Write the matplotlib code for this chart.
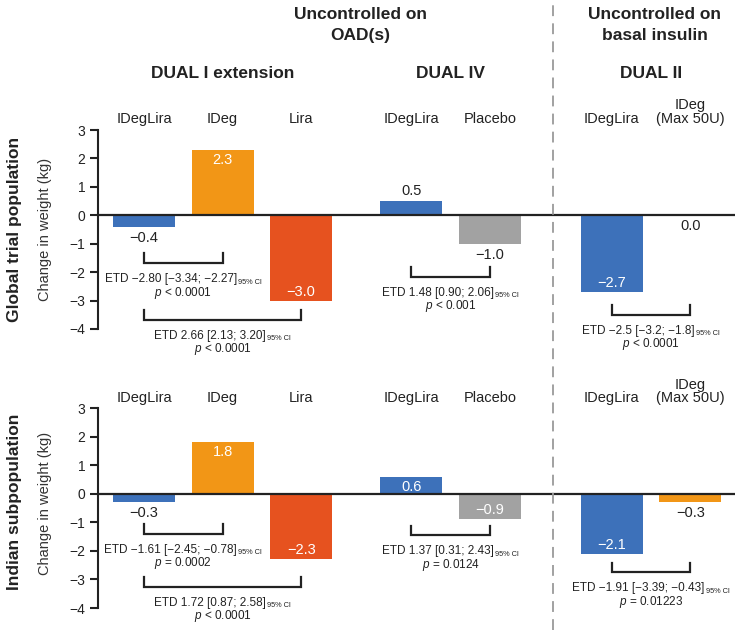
import matplotlib
matplotlib.use("Agg")
import matplotlib.pyplot as plt
from matplotlib import transforms

plt.rcParams['font.family'] = ['Liberation Sans', 'DejaVu Sans']
plt.rcParams['mathtext.fontset'] = 'custom'
plt.rcParams['mathtext.rm'] = 'Liberation Sans'
plt.rcParams['mathtext.it'] = 'Liberation Sans:italic'
plt.rcParams['mathtext.bf'] = 'Liberation Sans:bold'

# ---------------- data ----------------
trials = ["DUAL I extension", "DUAL IV", "DUAL II"]
arms = [["IDegLira", "IDeg", "Lira"],
        ["IDegLira", "Placebo"],
        ["IDegLira", "IDeg\n(Max 50U)"]]
arm_colors = {"IDegLira": "#3d71ba", "IDeg": "#f29616", "Lira": "#e6521f",
              "Placebo": "#a2a2a2", "IDeg\n(Max 50U)": "#f29616"}

global_values = [[-0.4, 2.3, -3.0], [0.5, -1.0], [-2.7, 0.0]]
indian_values = [[-0.3, 1.8, -2.3], [0.6, -0.9], [-2.1, -0.3]]

# label placement: inside bar (white) or outside (black)
global_label_in = [[False, True, True], [False, False], [True, False]]
indian_label_in = [[False, True, True], [True, True], [True, False]]

# comparisons: (trial, arm a, arm b, ETD text, p text)
global_comparisons = [
    (0, 0, 1, "ETD \u22122.80 [\u22123.34; \u22122.27]", "$p$ < 0.0001"),
    (0, 0, 2, "ETD 2.66 [2.13; 3.20]", "$p$ < 0.0001"),
    (1, 0, 1, "ETD 1.48 [0.90; 2.06]", "$p$ < 0.001"),
    (2, 0, 1, "ETD \u22122.5 [\u22123.2; \u22121.8]", "$p$ < 0.0001"),
]
indian_comparisons = [
    (0, 0, 1, "ETD \u22121.61 [\u22122.45; \u22120.78]", "$p$ = 0.0002"),
    (0, 0, 2, "ETD 1.72 [0.87; 2.58]", "$p$ < 0.0001"),
    (1, 0, 1, "ETD 1.37 [0.31; 2.43]", "$p$ = 0.0124"),
    (2, 0, 1, "ETD \u22121.91 [\u22123.39; \u22120.43]", "$p$ = 0.01223"),
]
ci_label = "95% CI"
# bracket levels (data units) for each comparison
global_bracket_y = [-1.68, -3.67, -2.17, -3.49]
indian_bracket_y = [-1.40, -3.26, -1.46, -2.75]

row_titles = ["Global trial population", "Indian subpopulation"]
ylabel = "Change in weight (kg)"
yticks = [3, 2, 1, 0, -1, -2, -3, -4]

# ---------------- layout ----------------
W, H = 737, 630
fig = plt.figure(figsize=(W / 100, H / 100), dpi=100)
renderer = fig.canvas.get_renderer()


def axes_px(left, top, right, bottom):
    return fig.add_axes([left / W, 1 - bottom / H, (right - left) / W, (bottom - top) / H])


def text_width(s, size):
    t = fig.text(0, 0, s, fontsize=size)
    w = t.get_window_extent(renderer).width
    t.remove()
    return w


ax_top = axes_px(98, 130, 735, 329)
ax_bot = axes_px(98, 408, 735, 608)

group_start = [0, 3.4, 5.95]
bar_w = 0.79
dark = "#222222"
etd_size = 8.5
sub_size = 5.3


def draw_panel(ax, values, label_in, comps, bracket_y, cat_y):
    ax.set_xlim(-0.585, 7.52)
    ax.set_ylim(-4, 3)
    for s in ["top", "right", "bottom"]:
        ax.spines[s].set_visible(False)
    ax.spines["left"].set_linewidth(1.5)
    ax.spines["left"].set_color(dark)
    ax.set_xticks([])
    ax.set_yticks(yticks)
    ax.tick_params(axis="y", length=6, width=1.5, color=dark, labelsize=10,
                   labelcolor="#222222", pad=3)
    ax.patch.set_alpha(0)
    ax.axhline(0, color=dark, lw=1.6, zorder=3)
    for g, names in enumerate(arms):
        for i, name in enumerate(names):
            x = group_start[g] + i
            v = values[g][i]
            ax.bar(x, v, width=bar_w, color=arm_colors[name], zorder=2)
            txt = ("\u2212%.1f" % abs(v)) if v < 0 else "%.1f" % v
            if label_in[g][i]:
                off = -10 if v > 0 else 9
                ax.annotate(txt, (x, v), xytext=(0, off), textcoords="offset pixels",
                            ha="center", va="center", color="white", fontsize=10.5, zorder=4)
            else:
                off = 10 if v > 0 else -11
                ax.annotate(txt, (x, v), xytext=(0, off), textcoords="offset pixels",
                            ha="center", va="center", color="#222222", fontsize=10.5, zorder=4)
            ax.text(x, cat_y, name, ha="center", va="baseline", fontsize=10.5,
                    linespacing=0.95, color="#222222", clip_on=False)
    for (g, a, b, t1, t2), yb in zip(comps, bracket_y):
        x1 = group_start[g] + a
        x2 = group_start[g] + b
        ax.plot([x1, x1, x2, x2], [yb + 0.34, yb, yb, yb + 0.34], color=dark, lw=1.6,
                clip_on=False, solid_joinstyle="miter")
        xc = (x1 + x2) / 2
        mw = text_width(t1, etd_size)
        sw = text_width(ci_label, sub_size)
        ax.annotate(t1, (xc, yb), xytext=(-(sw + 1) / 2, -16),
                    textcoords="offset pixels", ha="center", va="center",
                    fontsize=etd_size, color="#222222", annotation_clip=False)
        ax.annotate(ci_label, (xc, yb), xytext=(mw / 2 - (sw + 1) / 2 + 1, -19),
                    textcoords="offset pixels", ha="left", va="center",
                    fontsize=sub_size, color="#222222", annotation_clip=False)
        ax.annotate(t2, (xc, yb), xytext=(0, -29.5), textcoords="offset pixels",
                    ha="center", va="center", fontsize=etd_size, color="#222222",
                    annotation_clip=False)


draw_panel(ax_top, global_values, global_label_in, global_comparisons, global_bracket_y, 3.25)
draw_panel(ax_bot, indian_values, indian_label_in, indian_comparisons, indian_bracket_y, 3.2)

# dashed separator spanning the whole figure height
sep_x = (group_start[1] + 1 + group_start[2]) / 2 + 0.025
tr = transforms.blended_transform_factory(ax_top.transData, fig.transFigure)
fig.add_artist(plt.Line2D([sep_x, sep_x], [0, 1], transform=tr, color="#9a9a9a",
                          lw=1.3, linestyle=(0, (6, 4))))

# headers
for g, name in enumerate(trials):
    xc = group_start[g] + (len(arms[g]) - 1) / 2
    fig.text(xc, 1 - 73 / H, name, transform=tr, ha="center", va="center",
             fontsize=12.5, fontweight="bold", color="#222222")
fig.text(360 / W, 1 - 25 / H, "Uncontrolled on\nOAD(s)", ha="center", va="center",
         fontsize=12.5, fontweight="bold", linespacing=1.55, color="#222222")
fig.text(655 / W, 1 - 25 / H, "Uncontrolled on\nbasal insulin", ha="center", va="center",
         fontsize=12.5, fontweight="bold", linespacing=1.55, color="#222222")

# row titles and y labels
fig.text(15 / W, 1 - 229 / H, row_titles[0], rotation=90, ha="center", va="center",
         fontsize=12.5, fontweight="bold", color="#222222")
fig.text(15 / W, 1 - 502 / H, row_titles[1], rotation=90, ha="center", va="center",
         fontsize=12.5, fontweight="bold", color="#222222")
fig.text(45 / W, 1 - 229 / H, ylabel, rotation=90, ha="center", va="center",
         fontsize=10.5, color="#333333")
fig.text(45 / W, 1 - 503 / H, ylabel, rotation=90, ha="center", va="center",
         fontsize=10.5, color="#333333")

fig.savefig("out.png", dpi=100, facecolor="white")
